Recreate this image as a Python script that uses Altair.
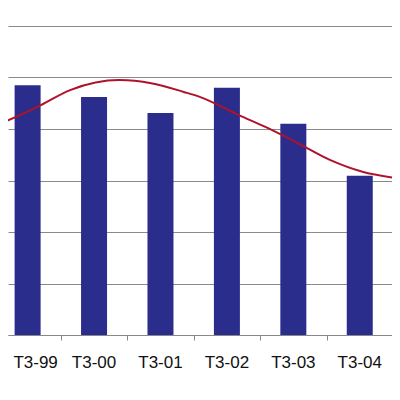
import altair as alt
import pandas as pd

categories = ["T3-99", "T3-00", "T3-01", "T3-02", "T3-03", "T3-04"]
positions = [0, 1, 2, 3, 4, 5]
values = [4.85, 4.62, 4.31, 4.80, 4.10, 3.09]

trend_x = [-0.34, 0.15, 0.65, 1.38, 1.86, 2.35, 2.60, 3.18, 3.58, 4.06, 4.55, 5.04, 5.53]
trend_y = [4.14, 4.43, 4.76, 4.95, 4.89, 4.72, 4.62, 4.27, 4.04, 3.73, 3.40, 3.17, 3.05]

tick_positions = [0.5, 1.5, 2.5, 3.5, 4.5, 5.5]

bars_df = pd.DataFrame({"cat": categories, "pos": positions, "val": values})
trend_df = pd.DataFrame({"x": trend_x, "y": trend_y})

x_scale = alt.Scale(domain=[-0.22, 5.41], nice=False, zero=False)
y_scale = alt.Scale(domain=[0, 6], nice=False)

x_axis = alt.Axis(values=tick_positions, labels=False, grid=False, ticks=True,
                  tickSize=5, tickColor="#888888", domainColor="#888888", title=None)
y_axis = alt.Axis(values=[0, 1, 2, 3, 4, 5, 6], labels=False, ticks=False, domain=False,
                  grid=True, gridColor="#8a8a8a", gridWidth=1, title=None)

bars = alt.Chart(bars_df).mark_bar(size=26, color="#2B2D8C", clip=True).encode(
    x=alt.X("pos:Q", scale=x_scale, axis=x_axis),
    y=alt.Y("val:Q", scale=y_scale, axis=y_axis),
)

line = alt.Chart(trend_df).mark_line(color="#B0122B", strokeWidth=2, interpolate="monotone", clip=True).encode(
    x=alt.X("x:Q", scale=x_scale),
    y=alt.Y("y:Q", scale=y_scale),
)

labels = alt.Chart(bars_df).transform_filter("datum.pos > 0").mark_text(
    fontSize=17, font="Liberation Sans", color="#111111", baseline="middle").encode(
    x=alt.X("pos:Q", scale=x_scale),
    y=alt.value(337),
    text="cat:N",
)

first_label = alt.Chart(bars_df).transform_filter("datum.pos == 0").mark_text(
    fontSize=17, font="Liberation Sans", color="#111111", baseline="middle", dx=8).encode(
    x=alt.X("pos:Q", scale=x_scale),
    y=alt.value(337),
    text="cat:N",
)

chart = alt.layer(bars, line, labels, first_label).properties(
    width=384, height=309,
    autosize=alt.AutoSizeParams(type="none"),
    padding={"left": 0, "top": 18, "right": 0, "bottom": 50},
).configure_view(stroke=None)

chart.save("out.html", embed_options={"renderer": "svg", "actions": False})
